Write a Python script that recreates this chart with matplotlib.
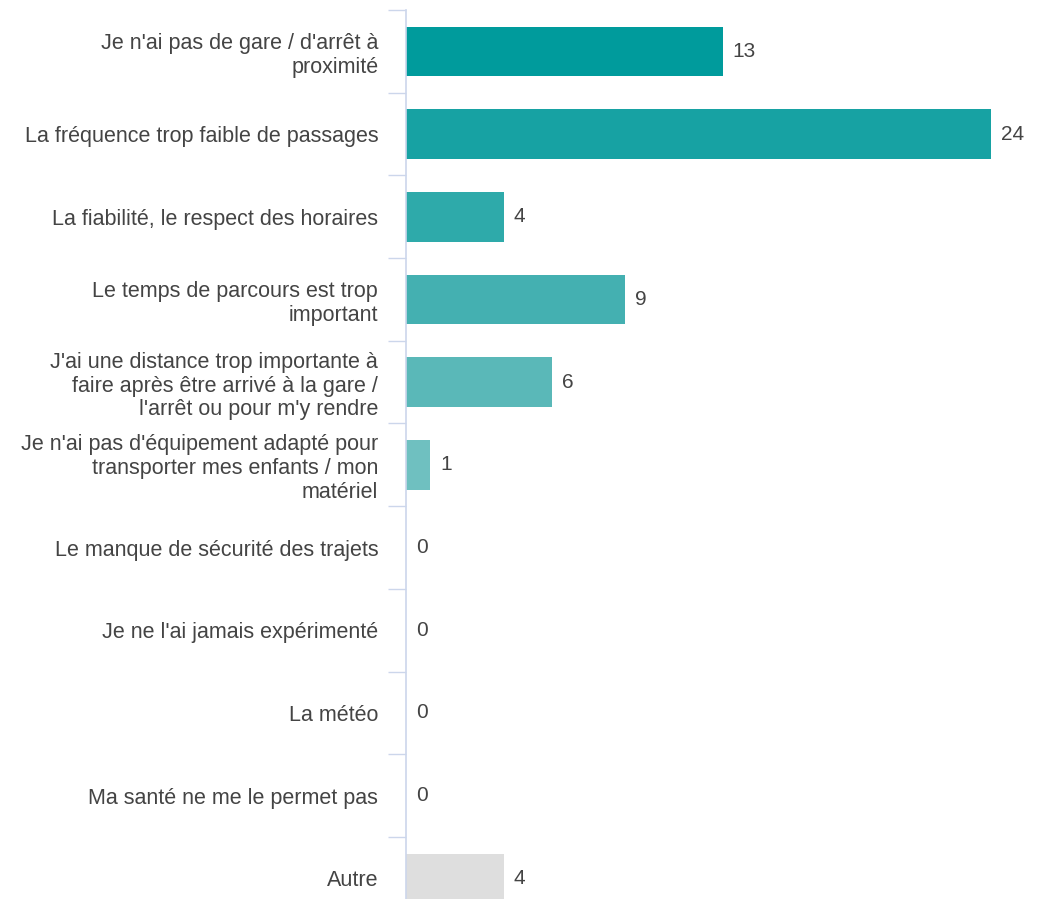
import numpy as np
import matplotlib.pyplot as plt

categories = [
    "Je n'ai pas de gare / d'arrêt à\nproximité",
    "La fréquence trop faible de passages",
    "La fiabilité, le respect des horaires",
    "Le temps de parcours est trop\nimportant",
    "J'ai une distance trop importante à\nfaire après être arrivé à la gare /\nl'arrêt ou pour m'y rendre",
    "Je n'ai pas d'équipement adapté pour\ntransporter mes enfants / mon\nmatériel",
    "Le manque de sécurité des trajets",
    "Je ne l'ai jamais expérimenté",
    "La météo",
    "Ma santé ne me le permet pas",
    "Autre",
]
values = [13, 24, 4, 9, 6, 1, 0, 0, 0, 0, 4]
colors = ['#009b9c', '#17a2a3', '#2eaaaa', '#44b0b1', '#5ab8b8', '#6fc0c0',
          '#83c8c8', '#97d0d0', '#abd8d8', '#bfe0e0', '#dedede']

plt.rcParams['font.family'] = ['Liberation Sans', 'DejaVu Sans']

fig = plt.figure(figsize=(10.46, 8.99), dpi=100)
W, H = 1046, 899
left, right = 406, 1046
top, bottom = 10, 10 + 11 * 82.7
ax = fig.add_axes([left / W, 1 - bottom / H, (right - left) / W, (bottom - top) / H])

y = np.arange(len(categories))
ax.barh(y, values, height=0.6, color=colors)
ax.set_ylim(len(categories) - 0.5, -0.5)
ax.set_xlim(0, (right - left) / 24.375)

for yi, v in zip(y, values):
    ax.annotate(str(v), (v, yi), xytext=(7, 0), textcoords='offset points',
                va='center', ha='left', fontsize=15, color='#444444')

ax.set_yticks(y)
ax.set_yticklabels(categories, fontsize=15.5, color='#444444', linespacing=1.17)
ax.set_yticks(np.arange(-0.5, len(categories)), minor=True)
ax.tick_params(axis='y', which='major', length=0, pad=20)
ax.tick_params(axis='y', which='minor', length=13, width=1, color='#ccd6eb')
for t in ax.get_yticklabels():
    t.set_multialignment('right')

ax.set_xticks([])
for s in ['top', 'right', 'bottom']:
    ax.spines[s].set_visible(False)
ax.spines['left'].set_color('#ccd6eb')
ax.spines['left'].set_linewidth(1.2)

fig.savefig('out.png', dpi=100)
